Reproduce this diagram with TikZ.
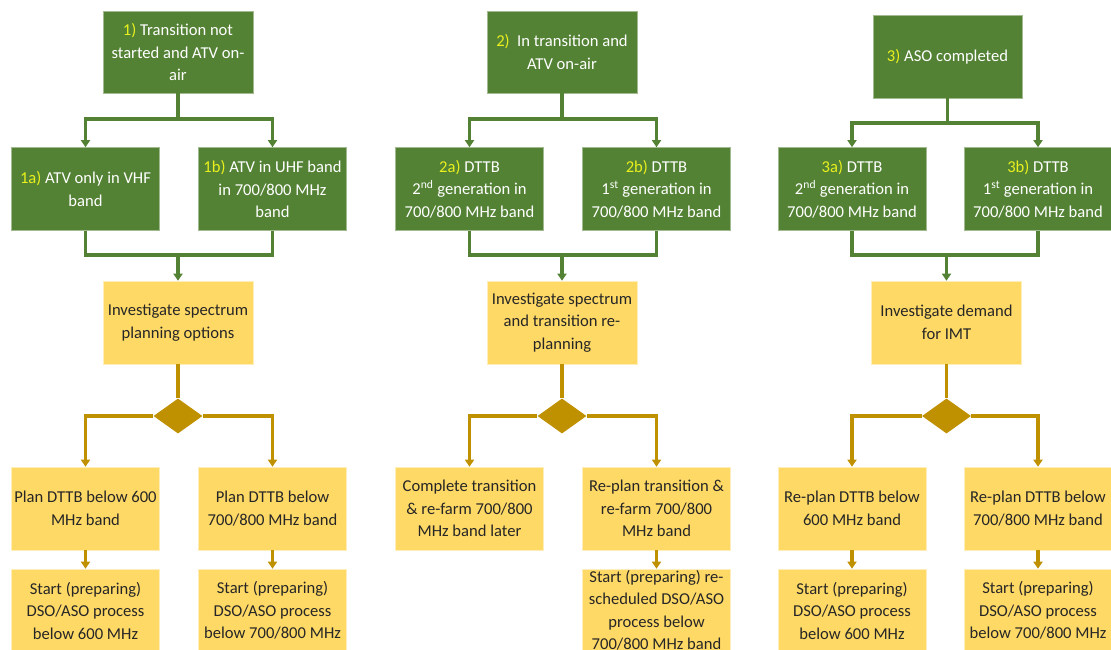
\documentclass[tikz,border=0pt]{standalone}
\usepackage{fontspec}
\setmainfont{Carlito}
\usetikzlibrary{arrows.meta,shapes.geometric}
\definecolor{boxgreen}{HTML}{548235}
\definecolor{boxgold}{HTML}{FFD966}
\definecolor{linegold}{HTML}{BF9000}
\definecolor{tagyellow}{HTML}{E9F01C}
\newcommand{\steplabel}[1]{\textcolor{tagyellow}{#1}}
\begin{document}
\begin{tikzpicture}[x=1pt,y=-1pt,
  box/.style={rectangle, inner sep=0pt, minimum width=148pt, minimum height=83pt,
    align=center, font=\fontsize{16.6}{22.5}\selectfont},
  greenbox/.style={box, fill=boxgreen, draw=boxgreen!55!white, line width=0.6pt, text=white},
  goldbox/.style={box, fill=boxgold, draw=boxgold!45!white, line width=0.6pt, text=black!85},
  decision/.style={diamond, fill=linegold, inner sep=0pt, minimum width=49pt, minimum height=35pt},
  gline/.style={draw=boxgreen, line width=3.2pt},
  garrow/.style={gline, -{Triangle[width=9pt,length=7pt]}},
  yline/.style={draw=linegold, line width=3.2pt},
  yarrow/.style={yline, -{Triangle[width=9pt,length=7pt]}}]
\useasboundingbox (0,0) rectangle (1111,650);
\clip (0,0) rectangle (1111,650);

% starting situations
\node[greenbox, minimum width=150pt, minimum height=82pt] (b1) at (178,52)
  {\steplabel{1)} Transition not\\started and ATV on-\\air};
\node[greenbox, minimum width=150pt, minimum height=82pt] (b2) at (562,52)
  {\steplabel{2)}\ \ In transition and\\ATV on-air};
\node[greenbox, minimum width=149pt, minimum height=83pt] (b3) at (947.5,56.5)
  {\steplabel{3)} ASO completed};

% sub-cases
\node[greenbox] (b1a) at (85.5,189) {\steplabel{1a)} ATV only in VHF\\band};
\node[greenbox] (b1b) at (272.5,189) {\steplabel{1b)} ATV in UHF band\\in 700/800 MHz\\band};
\node[greenbox] (b2a) at (469.5,189) {\steplabel{2a)} DTTB\\2\textsuperscript{nd} generation in\\700/800 MHz band};
\node[greenbox] (b2b) at (656.5,189) {\steplabel{2b)} DTTB\\1\textsuperscript{st} generation in\\700/800 MHz band};
\node[greenbox] (b3a) at (852,189) {\steplabel{3a)} DTTB\\2\textsuperscript{nd} generation in\\700/800 MHz band};
\node[greenbox] (b3b) at (1038,189) {\steplabel{3b)} DTTB\\1\textsuperscript{st} generation in\\700/800 MHz band};

% investigations
\node[goldbox, minimum width=150pt] (y1) at (178,322.5) {Investigate spectrum\\planning options};
\node[goldbox, minimum width=150pt] (y2) at (562,322.5) {Investigate spectrum\\and transition re-\\planning};
\node[goldbox, minimum width=150pt] (y3) at (946.5,322.5) {Investigate demand\\for IMT};

% decisions
\node[decision] (d1) at (178,416) {};
\node[decision] (d2) at (562,416) {};
\node[decision] (d3) at (946.5,416) {};

% planning options
\node[goldbox] (p1a) at (85.5,508.5) {Plan DTTB below 600\\MHz band};
\node[goldbox] (p1b) at (272.5,508.5) {Plan DTTB below\\700/800 MHz band};
\node[goldbox] (p2a) at (469.5,508.5) {Complete transition\\\& re-farm 700/800\\MHz band later};
\node[goldbox] (p2b) at (656.5,508.5) {Re-plan transition \&\\re-farm 700/800\\MHz band};
\node[goldbox] (p3a) at (852,508.5) {Re-plan DTTB below\\600 MHz band};
\node[goldbox] (p3b) at (1038,508.5) {Re-plan DTTB below\\700/800 MHz band};

% processes
\node[goldbox] (s1a) at (85.5,610.5) {Start (preparing)\\DSO/ASO process\\below 600 MHz};
\node[goldbox] (s1b) at (272.5,610.5) {Start (preparing)\\DSO/ASO process\\below 700/800 MHz};
\node[goldbox] (s2b) at (656.5,610.5) {Start (preparing) re-\\scheduled DSO/ASO\\process below\\700/800 MHz band};
\node[goldbox] (s3a) at (852,610.5) {Start (preparing)\\DSO/ASO process\\below 600 MHz};
\node[goldbox] (s3b) at (1038,610.5) {Start (preparing)\\DSO/ASO process\\below 700/800 MHz};

% split and merge points
\coordinate (j1) at (178,119);
\coordinate (j2) at (562,119);
\coordinate (j3) at (947.5,123);
\coordinate (m1) at (178,255);
\coordinate (m2) at (562,255);
\coordinate (m3) at (946.5,255);

% green branches
\draw[gline] (b1.south) -- (j1);
\draw[garrow] (j1) -| (b1a.north);
\draw[garrow] (j1) -| (b1b.north);
\draw[gline] (b2.south) -- (j2);
\draw[garrow] (j2) -| (b2a.north);
\draw[garrow] (j2) -| (b2b.north);
\draw[gline] (b3.south) -- (j3);
\draw[garrow] (j3) -| (b3a.north);
\draw[garrow] (j3) -| (b3b.north);

\draw[gline] (b1a.south) |- (m1) -| (b1b.south);
\draw[garrow] (m1) -- (y1.north);
\draw[gline] (b2a.south) |- (m2) -| (b2b.south);
\draw[garrow] (m2) -- (y2.north);
\draw[gline] (b3a.south) |- (m3) -| (b3b.south);
\draw[garrow] (m3) -- (y3.north);

% gold branches
\draw[yline] (y1.south) -- (d1.north);
\draw[yarrow] (d1.west) -| (p1a.north);
\draw[yarrow] (d1.east) -| (p1b.north);
\draw[yline] (y2.south) -- (d2.north);
\draw[yarrow] (d2.west) -| (p2a.north);
\draw[yarrow] (d2.east) -| (p2b.north);
\draw[yline] (y3.south) -- (d3.north);
\draw[yarrow] (d3.west) -| (p3a.north);
\draw[yarrow] (d3.east) -| (p3b.north);

\draw[yarrow] (p1a.south) -- (s1a.north);
\draw[yarrow] (p1b.south) -- (s1b.north);
\draw[yarrow] (p2b.south) -- (s2b.north);
\draw[yarrow] (p3a.south) -- (s3a.north);
\draw[yarrow] (p3b.south) -- (s3b.north);
\end{tikzpicture}
\end{document}
